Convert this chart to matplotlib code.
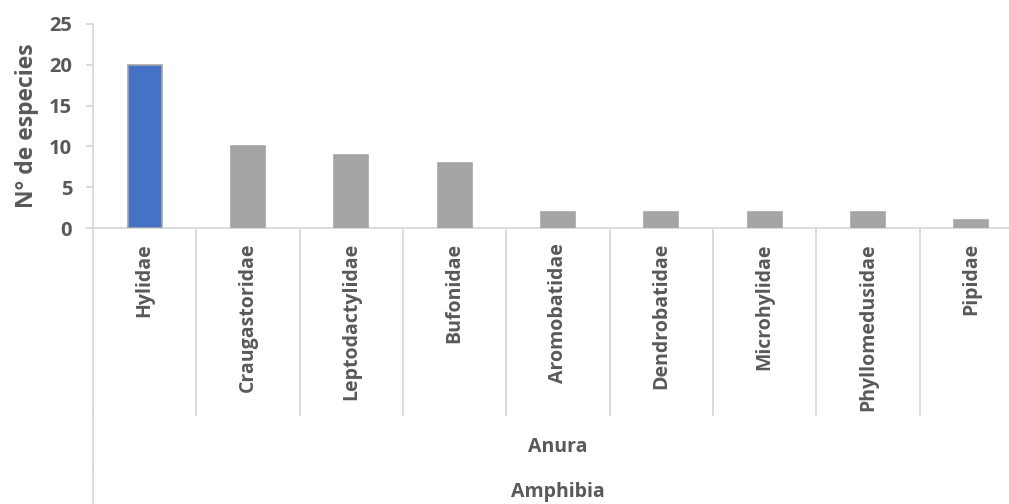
import numpy as np
import matplotlib
matplotlib.use("Agg")
import matplotlib.pyplot as plt
from matplotlib.transforms import blended_transform_factory

plt.rcParams['font.family'] = ['Open Sans', 'DejaVu Sans']

familias = ['Hylidae', 'Craugastoridae', 'Leptodactylidae', 'Bufonidae',
            'Aromobatidae', 'Dendrobatidae', 'Microhylidae',
            'Phyllomedusidae', 'Pipidae']
especies = [20, 10, 9, 8, 2, 2, 2, 2, 1]
orden = 'Anura'
clase = 'Amphibia'
yticks = [0, 5, 10, 15, 20, 25]

TEXT = '#595959'
LINE = '#D9D9D9'
W, H = 1009, 504

fig = plt.figure(figsize=(W / 100, H / 100), dpi=100)
# plot area runs a little past the right edge of the figure
x0, x1, ytop, ybot = 93, 1023, 24, 228
ax = fig.add_axes([x0 / W, 1 - ybot / H, (x1 - x0) / W, (ybot - ytop) / H])

x = np.arange(len(familias))
colores = ['#4472C4'] + ['#A5A5A5'] * (len(familias) - 1)
ax.bar(x, especies, width=0.33, color=colores, edgecolor='#A5A5A5',
       linewidth=1.2, zorder=3)

ax.set_xlim(-0.5, len(familias) - 0.5)
ax.set_ylim(0, 25)
ax.set_yticks(yticks)
ax.set_xticks([])
for s in ['top', 'right']:
    ax.spines[s].set_visible(False)
for s in ['left', 'bottom']:
    ax.spines[s].set_color(LINE)
    ax.spines[s].set_linewidth(1.3)
ax.tick_params(axis='y', length=5, width=1.3, color=LINE, pad=10,
               labelsize=14.5, labelcolor=TEXT)
for lb in ax.get_yticklabels():
    lb.set_fontweight('bold')

ax.set_ylabel('N° de especies', fontsize=16.5, fontweight='bold', color=TEXT,
              labelpad=7)

# multi-level category axis below the plot
px = (ybot - ytop)  # axes height in pixels
def ay(ypix):
    return -(ypix - ybot) / px

tr = blended_transform_factory(ax.transData, ax.transAxes)
lvl1, lvl2, lvl3 = ay(415), ay(470), ay(530)
for b in np.arange(len(familias) + 1) - 0.5:
    ax.plot([b, b], [0, lvl1], transform=tr, color=LINE, lw=1.3,
            clip_on=False)
for b in [-0.5, len(familias) - 0.5]:
    ax.plot([b, b], [lvl1, lvl2], transform=tr, color=LINE, lw=1.3,
            clip_on=False)
    ax.plot([b, b], [lvl2, lvl3], transform=tr, color=LINE, lw=1.3,
            clip_on=False)

for xi, nombre in zip(x, familias):
    ax.text(xi, ay(243), nombre, transform=tr, rotation=90, ha='center',
            va='top', fontsize=14, fontweight='bold', color=TEXT)

centro = (len(familias) - 1) / 2
ax.text(centro, ay(447), orden, transform=tr, ha='center', va='center',
        fontsize=14, fontweight='bold', color=TEXT)
ax.text(centro, ay(492), clase, transform=tr, ha='center', va='center',
        fontsize=14, fontweight='bold', color=TEXT)

fig.savefig('out.png', dpi=100)
